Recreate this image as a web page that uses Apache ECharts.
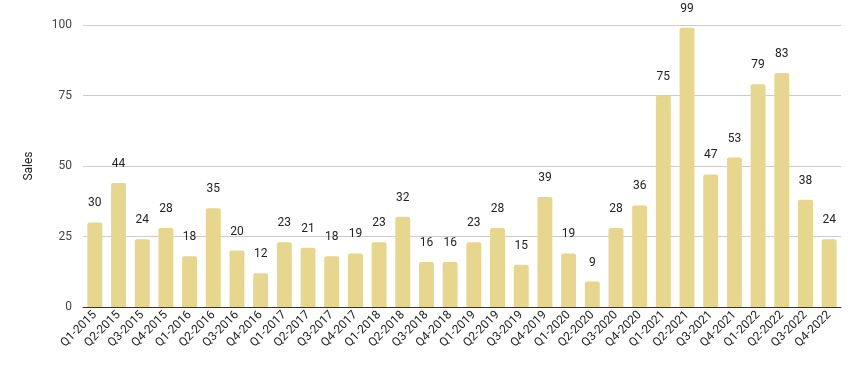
<!DOCTYPE html>
<html>
<head>
<meta charset="utf-8">
<script src="https://cdn.jsdelivr.net/npm/echarts@6/dist/echarts.min.js"></script>
<style>
  html, body { margin: 0; padding: 0; background: #fff; }
  #chart { width: 864px; height: 371px; }
</style>
</head>
<body>
<div id="chart"></div>
<script>
const quarters = [
  'Q1-2015', 'Q2-2015', 'Q3-2015', 'Q4-2015',
  'Q1-2016', 'Q2-2016', 'Q3-2016', 'Q4-2016',
  'Q1-2017', 'Q2-2017', 'Q3-2017', 'Q4-2017',
  'Q1-2018', 'Q2-2018', 'Q3-2018', 'Q4-2018',
  'Q1-2019', 'Q2-2019', 'Q3-2019', 'Q4-2019',
  'Q1-2020', 'Q2-2020', 'Q3-2020', 'Q4-2020',
  'Q1-2021', 'Q2-2021', 'Q3-2021', 'Q4-2021',
  'Q1-2022', 'Q2-2022', 'Q3-2022', 'Q4-2022'
]
const sales = [
  30, 44, 24, 28,
  18, 35, 20, 12,
  23, 21, 18, 19,
  23, 32, 16, 16,
  23, 28, 15, 39,
  19, 9, 28, 36,
  75, 99, 47, 53,
  79, 83, 38, 24
]
const yTicks = [0, 25, 50, 75, 100]

let myChart = echarts.init(document.getElementById('chart'))
myChart.setOption({
  animation: false,
  textStyle: { fontFamily: 'Roboto, Arial, sans-serif' },
  grid: {
    left: 83,
    right: 23,
    top: 25,
    bottom: 64
  },
  xAxis: {
    type: 'category',
    data: quarters,
    axisTick: { show: false },
    axisLine: { lineStyle: { color: '#333', width: 1 } },
    axisLabel: {
      interval: 0,
      rotate: 45,
      color: '#222',
      fontSize: 12,
      margin: 6
    }
  },
  yAxis: {
    type: 'value',
    min: yTicks[0],
    max: yTicks[yTicks.length - 1],
    interval: 25,
    name: 'Sales',
    nameLocation: 'middle',
    nameRotate: 90,
    nameGap: 48,
    nameTextStyle: { color: '#222', fontSize: 12 },
    axisLine: { show: false },
    axisTick: { show: false },
    axisLabel: { color: '#444', fontSize: 12, margin: 11 },
    splitLine: { lineStyle: { color: '#cccccc', width: 1 } }
  },
  series: [
    {
      name: 'Sales',
      type: 'bar',
      data: sales,
      barWidth: '63%',
      itemStyle: {
        color: '#e6d68e',
        borderRadius: [2, 2, 0, 0]
      },
      label: {
        show: true,
        position: 'top',
        distance: 13,
        color: '#222',
        fontSize: 12
      }
    }
  ]
})
</script>
</body>
</html>
